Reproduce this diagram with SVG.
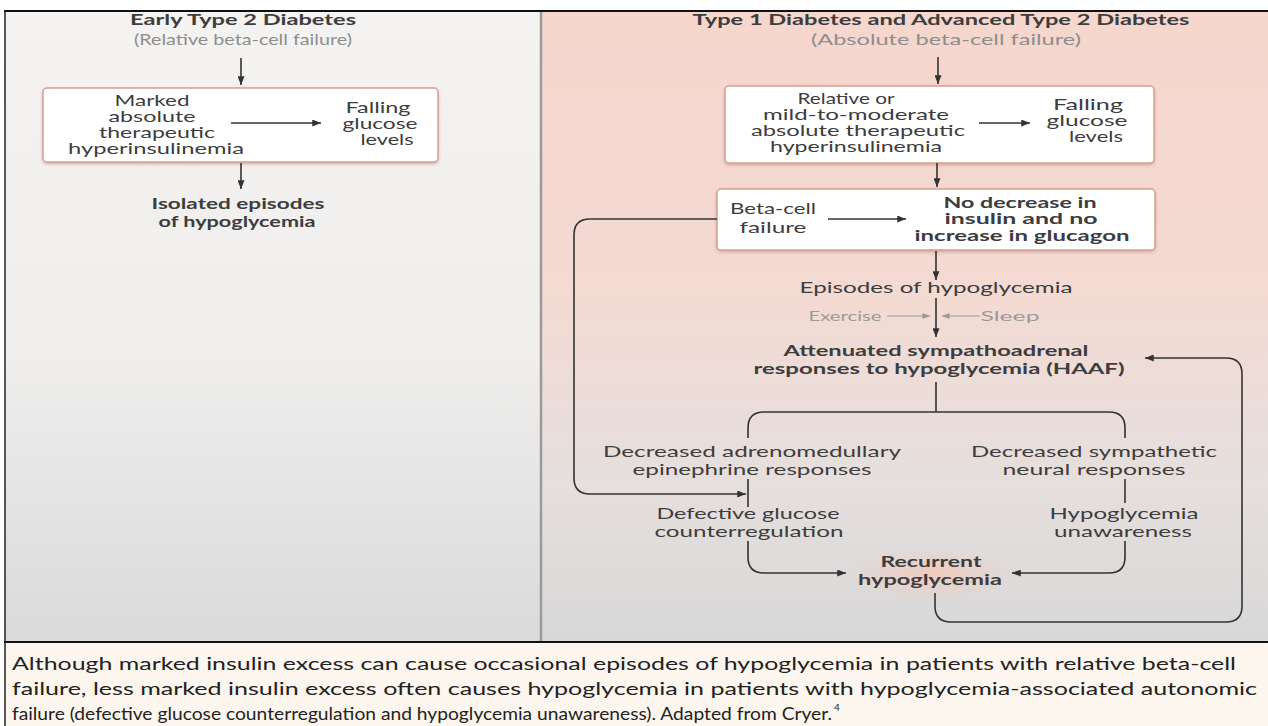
<svg xmlns="http://www.w3.org/2000/svg" width="1268" height="726" viewBox="0 0 1268 726">
<style>
text{font-family:Lato,"Open Sans","Liberation Sans",sans-serif;fill:#3d3d3d;text-anchor:middle}
.b{font-weight:bold}
.t{font-size:15px}
.h{font-size:15px}
.g{fill:#8e8e8e;font-size:15px}
.m{font-size:16px}
.s{fill:#9a9a9a;font-size:13px}
.cap{font-size:18px;fill:#222;text-anchor:start}
.ln{fill:none;stroke:#333;stroke-width:1.6}
.lg{fill:none;stroke:#999;stroke-width:1.2}
.box{fill:#fff;stroke:#d8a090;stroke-width:1.5;filter:url(#sh)}
</style>
<defs>
<marker id="a" viewBox="0 0 10 8" refX="10" refY="4" markerWidth="9" markerHeight="7" markerUnits="userSpaceOnUse" orient="auto"><path d="M0,0L10,4L0,8z" fill="#333"/></marker>
<marker id="ag" viewBox="0 0 10 8" refX="10" refY="4" markerWidth="8" markerHeight="6" markerUnits="userSpaceOnUse" orient="auto"><path d="M0,0L10,4L0,8z" fill="#999"/></marker>
<linearGradient id="gl" x1="0" y1="0" x2="0" y2="1"><stop offset="0" stop-color="#f4f3f2"/><stop offset="0.55" stop-color="#efeeed"/><stop offset="1" stop-color="#dadada"/></linearGradient>
<linearGradient id="gr" x1="0" y1="0" x2="0" y2="1"><stop offset="0" stop-color="#f6d6cd"/><stop offset="0.45" stop-color="#f3dad3"/><stop offset="0.75" stop-color="#e5dfdd"/><stop offset="1" stop-color="#d8d8d8"/></linearGradient>
<radialGradient id="glow"><stop offset="0" stop-color="#f2c8bc" stop-opacity="0.9"/><stop offset="1" stop-color="#f2c8bc" stop-opacity="0"/></radialGradient>
<filter id="sh" x="-5%" y="-10%" width="110%" height="125%"><feDropShadow dx="0" dy="1.5" stdDeviation="1.5" flood-color="#a07060" flood-opacity="0.45"/></filter>
</defs>
<rect width="1268" height="726" fill="#fff"/>
<rect x="5" y="11" width="536" height="631" fill="url(#gl)"/>
<rect x="541" y="11" width="727" height="631" fill="url(#gr)"/>
<rect x="5" y="643" width="1263" height="83" fill="#fcf6ee"/>
<line x1="541" y1="11" x2="541" y2="642" stroke="#9a9a9a" stroke-width="2.5"/>
<line x1="4" y1="11" x2="1268" y2="11" stroke="#111" stroke-width="2"/>
<line x1="4" y1="642" x2="1268" y2="642" stroke="#111" stroke-width="2"/>
<line x1="5" y1="11" x2="5" y2="726" stroke="#222" stroke-width="1.5"/>
<ellipse cx="931" cy="574" rx="85" ry="25" fill="url(#glow)"/>

<g id="left-title"><text class="b h" x="243" y="25" textLength="226" lengthAdjust="spacingAndGlyphs">Early Type 2 Diabetes</text><text class="g" x="243" y="45" textLength="218" lengthAdjust="spacingAndGlyphs">(Relative beta-cell failure)</text></g>
<g id="left-box"><rect class="box" x="43" y="88" width="395" height="74" rx="4"/>
<text class="t" x="152" y="106" textLength="75" lengthAdjust="spacingAndGlyphs">Marked</text>
<text class="t" x="152" y="122" textLength="87" lengthAdjust="spacingAndGlyphs">absolute</text>
<text class="t" x="157" y="138" textLength="116" lengthAdjust="spacingAndGlyphs">therapeutic</text>
<text class="t" x="156" y="154" textLength="176" lengthAdjust="spacingAndGlyphs">hyperinsulinemia</text>
<text class="t" x="378" y="113" textLength="65" lengthAdjust="spacingAndGlyphs">Falling</text>
<text class="t" x="380" y="129" textLength="75" lengthAdjust="spacingAndGlyphs">glucose</text>
<text class="t" x="387" y="145" textLength="53" lengthAdjust="spacingAndGlyphs">levels</text></g>
<g id="left-outcome"><text class="b t" x="238" y="209" textLength="173" lengthAdjust="spacingAndGlyphs">Isolated episodes</text><text class="b t" x="237" y="227" textLength="157" lengthAdjust="spacingAndGlyphs">of hypoglycemia</text></g>

<g id="right-title"><text class="b h" x="941" y="25" textLength="497" lengthAdjust="spacingAndGlyphs">Type 1 Diabetes and Advanced Type 2 Diabetes</text><text class="g" x="946" y="45" textLength="270" lengthAdjust="spacingAndGlyphs">(Absolute beta-cell failure)</text></g>
<g id="right-box1"><rect class="box" x="725" y="86" width="429" height="77" rx="4"/>
<text class="t" x="846" y="104" textLength="97" lengthAdjust="spacingAndGlyphs">Relative or</text>
<text class="t" x="856" y="120" textLength="186" lengthAdjust="spacingAndGlyphs">mild-to-moderate</text>
<text class="t" x="858" y="136" textLength="214" lengthAdjust="spacingAndGlyphs">absolute therapeutic</text>
<text class="t" x="856" y="152" textLength="172" lengthAdjust="spacingAndGlyphs">hyperinsulinemia</text>
<text class="t" x="1088" y="110" textLength="70" lengthAdjust="spacingAndGlyphs">Falling</text>
<text class="t" x="1087" y="126" textLength="81" lengthAdjust="spacingAndGlyphs">glucose</text>
<text class="t" x="1096" y="142" textLength="54" lengthAdjust="spacingAndGlyphs">levels</text></g>
<g id="right-box2"><rect class="box" x="717" y="189" width="438" height="61" rx="4"/>
<text class="t" x="773" y="214" textLength="86" lengthAdjust="spacingAndGlyphs">Beta-cell</text>
<text class="t" x="773" y="233" textLength="67" lengthAdjust="spacingAndGlyphs">failure</text>
<text class="b t" x="1020" y="208" textLength="153" lengthAdjust="spacingAndGlyphs">No decrease in</text>
<text class="b t" x="1021" y="224" textLength="153" lengthAdjust="spacingAndGlyphs">insulin and no</text>
<text class="b t" x="1022" y="241" textLength="215" lengthAdjust="spacingAndGlyphs">increase in glucagon</text></g>
<g id="episodes"><text class="m" x="936" y="293" textLength="273" lengthAdjust="spacingAndGlyphs">Episodes of hypoglycemia</text></g>
<g id="modifiers"><text class="s" x="845" y="321" textLength="73" lengthAdjust="spacingAndGlyphs">Exercise</text><text class="s" x="1010" y="321" textLength="59" lengthAdjust="spacingAndGlyphs">Sleep</text></g>
<g id="haaf"><text class="b t" x="936" y="356" textLength="305" lengthAdjust="spacingAndGlyphs">Attenuated sympathoadrenal</text><text class="b t" x="939" y="374" textLength="371" lengthAdjust="spacingAndGlyphs">responses to hypoglycemia (HAAF)</text></g>
<g id="adreno"><text class="m" x="752" y="457" textLength="298" lengthAdjust="spacingAndGlyphs">Decreased adrenomedullary</text><text class="m" x="752" y="475" textLength="239" lengthAdjust="spacingAndGlyphs">epinephrine responses</text></g>
<g id="sympathetic"><text class="m" x="1094" y="457" textLength="246" lengthAdjust="spacingAndGlyphs">Decreased sympathetic</text><text class="m" x="1094" y="475" textLength="183" lengthAdjust="spacingAndGlyphs">neural responses</text></g>
<g id="defective"><text class="m" x="748" y="519" textLength="183" lengthAdjust="spacingAndGlyphs">Defective glucose</text><text class="m" x="749" y="537" textLength="189" lengthAdjust="spacingAndGlyphs">counterregulation</text></g>
<g id="unawareness"><text class="m" x="1124" y="519" textLength="149" lengthAdjust="spacingAndGlyphs">Hypoglycemia</text><text class="m" x="1123" y="537" textLength="138" lengthAdjust="spacingAndGlyphs">unawareness</text></g>
<g id="recurrent"><text class="b t" x="931" y="567" textLength="101" lengthAdjust="spacingAndGlyphs">Recurrent</text><text class="b t" x="930" y="585" textLength="144" lengthAdjust="spacingAndGlyphs">hypoglycemia</text></g>

<g id="connectors">
<path class="ln" d="M241,58V85" marker-end="url(#a)"/>
<path class="ln" d="M231,123H321" marker-end="url(#a)"/>
<path class="ln" d="M241,163V189" marker-end="url(#a)"/>
<path class="ln" d="M938,57V84" marker-end="url(#a)"/>
<path class="ln" d="M979,123H1030" marker-end="url(#a)"/>
<path class="ln" d="M937,163V187" marker-end="url(#a)"/>
<path class="ln" d="M828,219H906" marker-end="url(#a)"/>
<path class="ln" d="M936,251V280" marker-end="url(#a)"/>
<path class="ln" d="M936,298V337" marker-end="url(#a)"/>
<path class="lg" d="M887,316H930" marker-end="url(#ag)"/>
<path class="lg" d="M980,316H942" marker-end="url(#ag)"/>
<path class="ln" d="M936,382V412"/>
<path class="ln" d="M748,438V428Q748,412 764,412H1109Q1125,412 1125,428V438"/>
<path class="ln" d="M748,479V507"/>
<path class="ln" d="M748,541V557Q748,573 764,573H846" marker-end="url(#a)"/>
<path class="ln" d="M1125,479V503"/>
<path class="ln" d="M1125,541V557Q1125,573 1109,573H1012" marker-end="url(#a)"/>
<path class="ln" d="M717,219H590Q574,219 574,235V478Q574,494 590,494H746" marker-end="url(#a)"/>
<path class="ln" d="M935,593V606Q935,622 951,622H1226Q1242,622 1242,606V374Q1242,358 1226,358H1145" marker-end="url(#a)"/>
</g>

<g id="caption">
<text class="cap" x="12" y="670" textLength="1224" lengthAdjust="spacingAndGlyphs">Although marked insulin excess can cause occasional episodes of hypoglycemia in patients with relative beta-cell</text>
<text class="cap" x="12" y="695" textLength="1245" lengthAdjust="spacingAndGlyphs">failure, less marked insulin excess often causes hypoglycemia in patients with hypoglycemia-associated autonomic</text>
<text class="cap" x="12" y="720" textLength="820" lengthAdjust="spacingAndGlyphs">failure (defective glucose counterregulation and hypoglycemia unawareness). Adapted from Cryer.</text>
<text class="cap" x="834" y="711" style="font-size:10px">4</text>
</g>
</svg>
